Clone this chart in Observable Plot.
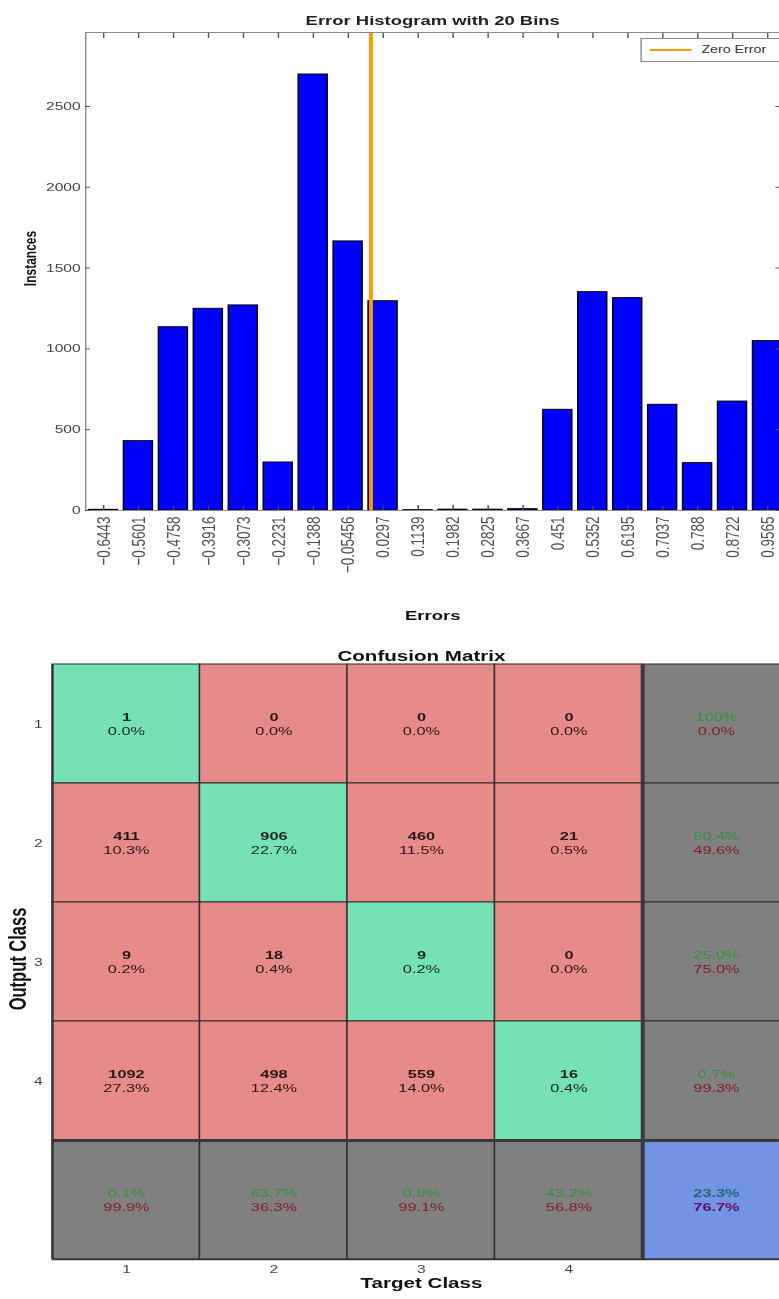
<!DOCTYPE html>
<html>
<head>
<meta charset="utf-8">
<script src="https://cdn.jsdelivr.net/npm/d3@7"></script>
<script src="https://cdn.jsdelivr.net/npm/@observablehq/plot@0.6"></script>
<style>
  html, body { margin: 0; padding: 0; background: #fff; }
  #outer { position: relative; width: 779px; height: 1299px; overflow: hidden; background: #fff; }
  #inner { position: absolute; left: 0; top: 0; height: 1299px; transform-origin: 0 0; }
  #hist { position: absolute; left: 0; top: 0; }
  #cm { position: absolute; left: 0; top: 640px; }
  #legend { position: absolute; top: 38px; height: 22px; border: 1px solid #8c8c8c; background: #fff;
            font-family: "Liberation Sans", Arial, sans-serif; font-size: 10px; color: #333; }
  #legend svg { position: absolute; left: 0; top: 0; }
  #legend span { position: absolute; top: 5px; }
</style>
</head>
<body>
<div id="outer"><div id="inner"><div id="hist"></div><div id="legend"></div><div id="cm"></div></div></div>
<script>
// ---------- data ----------
const binCenters = [-0.6443, -0.5601, -0.4758, -0.3916, -0.3073, -0.2231, -0.1388, -0.05456, 0.0297, 0.1139,
                    0.1982, 0.2825, 0.3667, 0.451, 0.5352, 0.6195, 0.7037, 0.788, 0.8722, 0.9565];
const binLabels = ["\u22120.6443", "\u22120.5601", "\u22120.4758", "\u22120.3916", "\u22120.3073", "\u22120.2231",
                   "\u22120.1388", "\u22120.05456", "0.0297", "0.1139", "0.1982", "0.2825", "0.3667", "0.451",
                   "0.5352", "0.6195", "0.7037", "0.788", "0.8722", "0.9565"];
const instances = [4, 429, 1134, 1248, 1269, 297, 2698, 1665, 1295, 2, 5, 5, 8, 623, 1351, 1314, 654, 293, 674, 1048];
const yTicks = [0, 500, 1000, 1500, 2000, 2500];
const zeroError = [0];

const classes = [1, 2, 3, 4];
const counts = [[1, 0, 0, 0], [411, 906, 460, 21], [9, 18, 9, 0], [1092, 498, 559, 16]];
const percents = [["0.0%", "0.0%", "0.0%", "0.0%"], ["10.3%", "22.7%", "11.5%", "0.5%"],
                  ["0.2%", "0.4%", "0.2%", "0.0%"], ["27.3%", "12.4%", "14.0%", "0.4%"]];
const rowCorrect = ["100%", "50.4%", "25.0%", "0.7%"];
const rowWrong = ["0.0%", "49.6%", "75.0%", "99.3%"];
const colCorrect = ["0.1%", "63.7%", "0.9%", "43.2%"];
const colWrong = ["99.9%", "36.3%", "99.1%", "56.8%"];
const overall = ["23.3%", "76.7%"];

// ---------- layout / style ----------
const S = 1.42;               // horizontal stretch of the original picture
const W = 779 / S;
const FONT = '"Liberation Sans", Arial, Helvetica, sans-serif';
const BAR_W = 0.07;
document.getElementById("inner").style.width = W + "px";
document.getElementById("inner").style.transform = `scaleX(${S})`;

// ---------- histogram ----------
const bins = binCenters.map((c, i) => ({c, n: instances[i]}));
const labelOf = d => binLabels[binCenters.indexOf(d)];

const hist = Plot.plot({
  width: W, height: 640,
  marginTop: 32, marginBottom: 130, marginLeft: 85 / S, marginRight: 0,
  style: {fontFamily: FONT, background: "transparent"},
  x: {domain: [-0.6877, 0.9854]},
  y: {domain: [0, 2958]},
  marks: [
    Plot.rectY(bins, {x1: d => d.c - BAR_W / 2, x2: d => d.c + BAR_W / 2, y1: 0, y2: "n",
                      fill: "#0000ff", stroke: "#000", strokeWidth: 1}),
    Plot.ruleX(zeroError, {stroke: "#ff9a00", strokeWidth: 2.8}),
    Plot.frame({stroke: "#8a8a8a"}),
    Plot.axisX({anchor: "bottom", ticks: binCenters, tickFormat: labelOf, tickRotate: -90, tickSize: -5,
                tickPadding: 11, textAnchor: "end", fontSize: 13.5, fill: "#505050", stroke: "#444", label: null}),
    Plot.axisX({anchor: "top", ticks: binCenters, tickFormat: () => "", tickSize: -5, stroke: "#555", label: null}),
    Plot.axisY({anchor: "left", ticks: yTicks, tickFormat: d => String(d), tickSize: -5 / S, tickPadding: 10 / S,
                fontSize: 11, fill: "#454545", stroke: "#555", label: null}),
    Plot.axisY({anchor: "right", ticks: yTicks, tickFormat: () => "", tickSize: -5 / S, stroke: "#555", label: null}),
    Plot.text(["Error Histogram with 20 Bins"], {text: d => d, frameAnchor: "top", dy: -17,
               fontSize: 13, fontWeight: "bold", fill: "#222"}),
    Plot.text(["Instances"], {text: d => d, frameAnchor: "left", textAnchor: "middle", dx: -55 / S, dy: -13,
               rotate: -90, fontSize: 12, fontWeight: "bold", fill: "#111"}),
    Plot.text(["Errors"], {text: d => d, frameAnchor: "bottom", dy: 110, fontSize: 13,
               fontWeight: "bold", fill: "#111"})
  ]
});
document.getElementById("hist").append(hist);

// legend
const legend = document.getElementById("legend");
legend.style.left = (640 / S) + "px";
legend.style.width = (150 / S) + "px";
legend.innerHTML = `<svg width="${50 / S}" height="22"><line x1="${8 / S}" x2="${54 / S}" y1="11" y2="11" stroke="#ff9a00" stroke-width="2"/></svg><span style="left:${60 / S}px">Zero Error</span>`;

// ---------- confusion matrix ----------
const fills = {correct: "#76e1b4", wrong: "#e68a8a", summary: "#808080", overall: "#7493e3"};
const top1 = {correct: "#17261e", wrong: "#2a1818", summary: "#2f9436", overall: "#1d6a75"};
const top2 = {correct: "#17261e", wrong: "#2a1818", summary: "#851d22", overall: "#5a1264"};
const cells = [];
classes.forEach((r, ri) => classes.forEach((c, ci) => cells.push({
  row: r, col: c, type: r === c ? "correct" : "wrong", l1: String(counts[ri][ci]), l2: percents[ri][ci]})));
classes.forEach((r, ri) => cells.push({row: r, col: 5, type: "summary", l1: rowCorrect[ri], l2: rowWrong[ri]}));
classes.forEach((c, ci) => cells.push({row: 5, col: c, type: "summary", l1: colCorrect[ci], l2: colWrong[ci]}));
cells.push({row: 5, col: 5, type: "overall", l1: overall[0], l2: overall[1]});

const isMain = d => d.type === "correct" || d.type === "wrong";
const isSummary = d => d.type === "summary";
const isOverall = d => d.type === "overall";

const cm = Plot.plot({
  width: W, height: 659,
  marginTop: 24, marginBottom: 40, marginLeft: 52 / S, marginRight: 0,
  style: {fontFamily: FONT, background: "transparent"},
  x: {domain: [0.5, 5.5], range: [52 / S, 789.5 / S]},
  y: {domain: [0.5, 5.5], range: [24, 619]},
  marks: [
    Plot.rect(cells, {x1: d => d.col - 0.5, x2: d => d.col + 0.5, y1: d => d.row - 0.5, y2: d => d.row + 0.5,
                      fill: d => fills[d.type], stroke: "#2e2e2e", strokeWidth: 1}),
    Plot.ruleX([4.5], {stroke: "#3a3a3a", strokeWidth: 4 / S}),
    Plot.ruleY([4.5], {stroke: "#3a3a3a", strokeWidth: 3}),
    Plot.ruleX([0.5], {stroke: "#333", strokeWidth: 2 / S}),
    Plot.ruleY([5.5], {stroke: "#333", strokeWidth: 1.5}),
    // main cells: bold count + percentage
    Plot.text(cells, {filter: isMain, x: "col", y: "row", text: "l1", dy: -7, fontSize: 11.5, fontWeight: "bold",
                      fill: d => top1[d.type]}),
    Plot.text(cells, {filter: isMain, x: "col", y: "row", text: "l2", dy: 7, fontSize: 11.5,
                      fill: d => top2[d.type]}),
    // summary cells
    Plot.text(cells, {filter: isSummary, x: "col", y: "row", text: "l1", dy: -7, fontSize: 11.5,
                      fill: d => top1[d.type]}),
    Plot.text(cells, {filter: isSummary, x: "col", y: "row", text: "l2", dy: 7, fontSize: 11.5,
                      fill: d => top2[d.type]}),
    // overall cell
    Plot.text(cells, {filter: isOverall, x: "col", y: "row", text: "l1", dy: -7, fontSize: 11.5, fontWeight: "bold",
                      fill: d => top1[d.type]}),
    Plot.text(cells, {filter: isOverall, x: "col", y: "row", text: "l2", dy: 7, fontSize: 11.5, fontWeight: "bold",
                      fill: d => top2[d.type]}),
    Plot.axisY({ticks: classes, tickFormat: d => String(d), tickSize: 0, tickPadding: 10 / S, fontSize: 11,
                fill: "#444", label: null}),
    Plot.axisX({ticks: classes, tickFormat: d => String(d), tickSize: 0, tickPadding: 6, fontSize: 11,
                fill: "#444", label: null}),
    Plot.text(["Confusion Matrix"], {text: d => d, x: () => 3, frameAnchor: "top", dy: -14,
               fontSize: 14.5, fontWeight: "bold", fill: "#111"}),
    Plot.text(["Target Class"], {text: d => d, x: () => 3, frameAnchor: "bottom", dy: 29,
               fontSize: 14.5, fontWeight: "bold", fill: "#111"}),
    Plot.text(["Output Class"], {text: d => d, frameAnchor: "left", textAnchor: "middle", dx: -34 / S, dy: -3,
               rotate: -90, fontSize: 16.5, fontWeight: "bold", fill: "#111"})
  ]
});
document.getElementById("cm").append(cm);
</script>
</body>
</html>
